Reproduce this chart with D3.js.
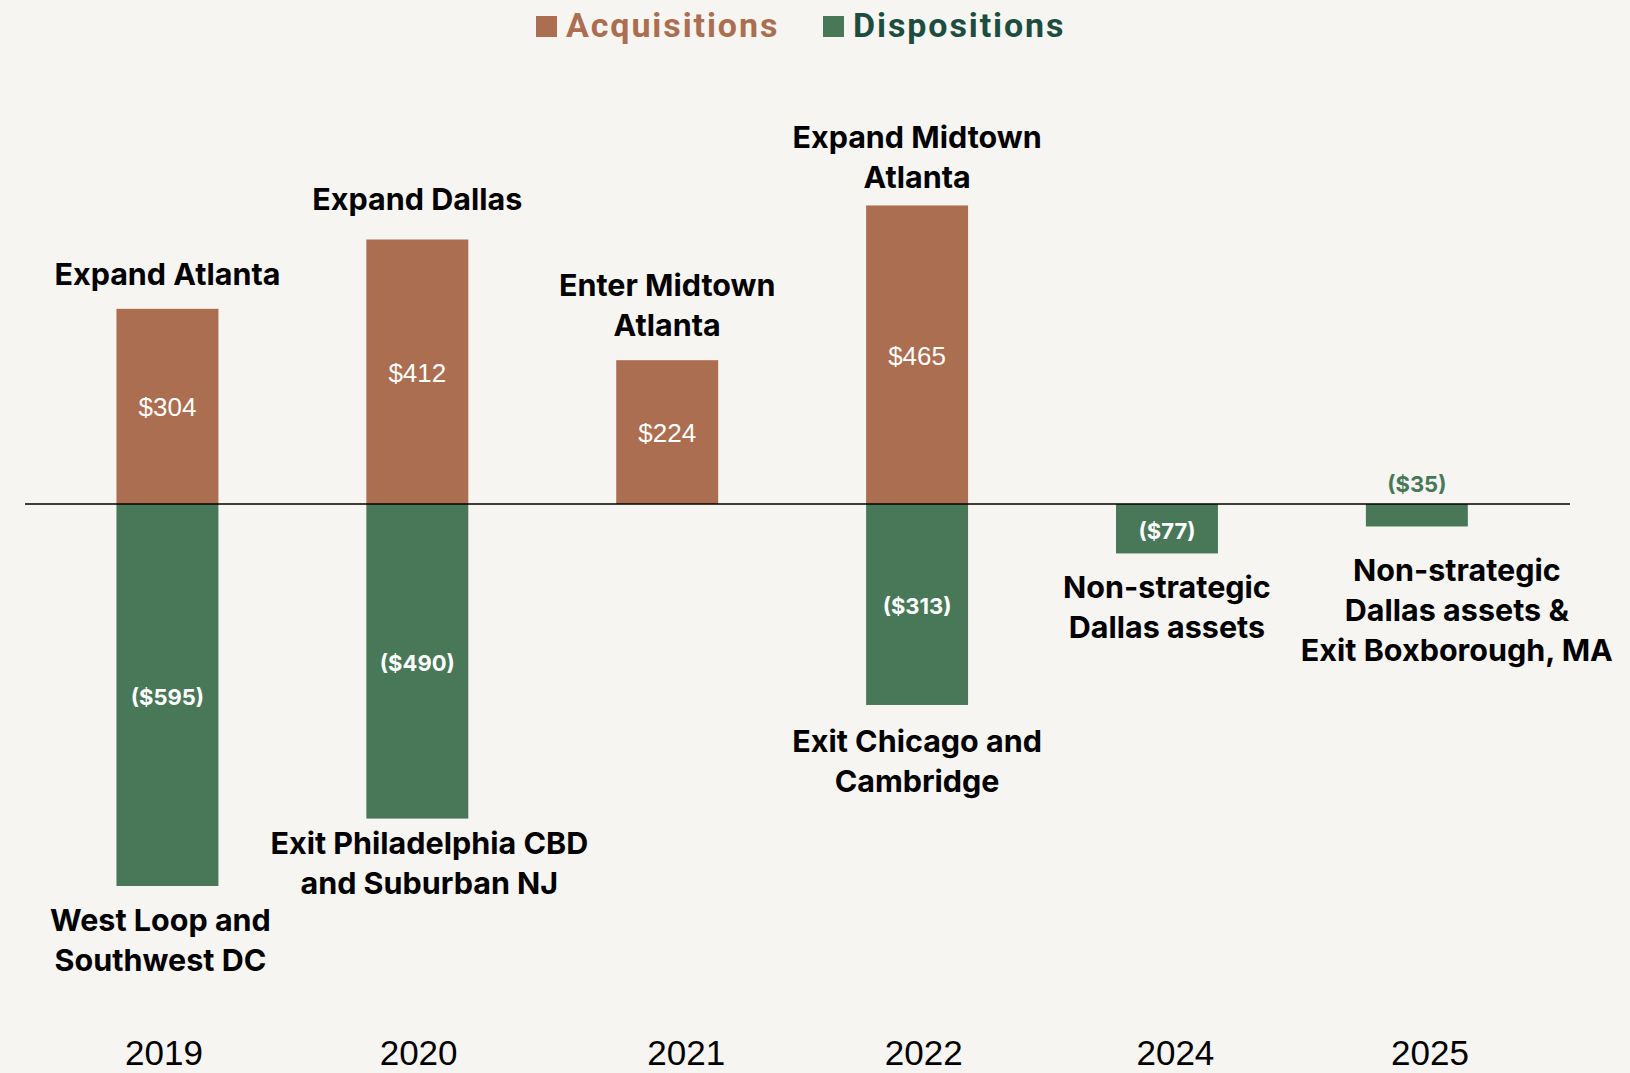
<!DOCTYPE html>
<html>
  <head>
    <meta charset="utf-8">
    <title>Acquisitions and dispositions</title>
    <script src="https://cdn.jsdelivr.net/npm/d3@7"></script>
    <style>
      body { margin: 0; background: #f6f5f1; }
      svg { display: block; }
      .note { font-family: Inter, "Noto Sans", sans-serif; font-weight: 700; font-size: 30.5px; fill: #000; }
      .year { font-family: "Liberation Sans", Arial, sans-serif; font-size: 35px; fill: #000; }
    </style>
  </head>
  <body>
    <div id="chart"></div>
    <script>
      // data
      const years = ["2019", "2020", "2021", "2022", "2024", "2025"];
      const acquisitions = [304, 412, 224, 465, null, null];
      const dispositions = [-595, -490, null, -313, -77, -35];
      const topNotes = [
        ["Expand Atlanta"],
        ["Expand Dallas"],
        ["Enter Midtown", "Atlanta"],
        ["Expand Midtown", "Atlanta"],
        [],
        []
      ];
      const bottomNotes = [
        ["West Loop and", "Southwest DC"],
        ["Exit Philadelphia CBD", "and Suburban NJ"],
        [],
        ["Exit Chicago and", "Cambridge"],
        ["Non-strategic", "Dallas assets"],
        ["Non-strategic", "Dallas assets &", "Exit Boxborough, MA"]
      ];

      // layout (label nudges, in px)
      const width = 1630, height = 1073;
      const acqColor = "#ab6e50", disColor = "#487858";
      const topShift = [[0, 0], [0, -5], [0, 0], [0, 7], [0, 0], [0, 0]];
      const bottomShift = [[-7, 2], [12, -8], [0, 0], [0, 4], [0, 2], [40, 12]];
      const yearShift = [-5, -3, 12, -3, -4, -2];
      const lineH = 40;

      const svg = d3.select("#chart").append("svg")
        .attr("width", width)
        .attr("height", height)
        .style("background", "#f6f5f1");

      const x = d3.scaleBand()
        .domain(years)
        .range([42.5, 1541.8])
        .paddingInner(0.592)
        .paddingOuter(0.296);
      const xLabel = d3.scalePoint()
        .domain(years)
        .range([169, 1432]);
      const y = d3.scaleLinear()
        .domain([-600, 500])
        .range([889.2, 183]);

      // bars
      const rows = years.map((yr, i) => ({ yr, i, acq: acquisitions[i], dis: dispositions[i] }));

      svg.selectAll(".acq")
        .data(rows.filter(d => d.acq != null))
        .enter().append("rect")
          .attr("x", d => x(d.yr))
          .attr("width", x.bandwidth())
          .attr("y", d => y(d.acq))
          .attr("height", d => y(0) - y(d.acq))
          .attr("fill", acqColor);

      svg.selectAll(".dis")
        .data(rows.filter(d => d.dis != null))
        .enter().append("rect")
          .attr("x", d => x(d.yr))
          .attr("width", x.bandwidth())
          .attr("y", y(0))
          .attr("height", d => y(d.dis) - y(0))
          .attr("fill", disColor);

      // zero line
      svg.append("line")
        .attr("x1", 25).attr("x2", 1570)
        .attr("y1", y(0)).attr("y2", y(0))
        .attr("stroke", "#000")
        .attr("stroke-width", 1.6);

      // value labels
      svg.selectAll(".acqVal")
        .data(rows.filter(d => d.acq != null))
        .enter().append("text")
          .attr("x", d => x(d.yr) + x.bandwidth() / 2)
          .attr("y", d => (y(d.acq) + y(0)) / 2)
          .attr("dy", "0.38em")
          .attr("text-anchor", "middle")
          .style("font-family", "'Liberation Sans', Arial, sans-serif")
          .style("font-size", "26px")
          .style("fill", "#fff")
          .text(d => "$" + d.acq);

      svg.selectAll(".disVal")
        .data(rows.filter(d => d.dis != null))
        .enter().append("text")
          .attr("x", d => x(d.yr) + x.bandwidth() / 2)
          .attr("y", d => d.dis > -50 ? y(0) - 22 : (y(d.dis) + y(0)) / 2)
          .attr("dy", "0.45em")
          .attr("text-anchor", "middle")
          .style("font-family", "Inter, 'Noto Sans', sans-serif")
          .style("font-weight", 700)
          .style("font-size", "22px")
          .style("fill", d => d.dis > -50 ? disColor : "#fff")
          .text(d => "($" + Math.abs(d.dis) + ")");

      // annotations above bars
      rows.forEach(d => {
        const lines = topNotes[d.i];
        if (!lines.length || d.acq == null) return;
        const cx = x(d.yr) + x.bandwidth() / 2 + topShift[d.i][0];
        const base = y(d.acq) - 24 - (lines.length - 1) * lineH + topShift[d.i][1];
        const t = svg.append("text")
          .attr("class", "note")
          .attr("text-anchor", "middle");
        lines.forEach((l, j) => {
          t.append("tspan").attr("x", cx).attr("y", base + j * lineH).text(l);
        });
      });

      // annotations below bars
      rows.forEach(d => {
        const lines = bottomNotes[d.i];
        if (!lines.length || d.dis == null) return;
        const cx = x(d.yr) + x.bandwidth() / 2 + bottomShift[d.i][0];
        const base = y(d.dis) + 43 + bottomShift[d.i][1];
        const t = svg.append("text")
          .attr("class", "note")
          .attr("text-anchor", "middle");
        lines.forEach((l, j) => {
          t.append("tspan").attr("x", cx).attr("y", base + j * lineH).text(l);
        });
      });

      // year axis
      const axis = svg.append("g")
        .attr("transform", "translate(0,1065)")
        .call(d3.axisBottom(xLabel).tickSize(0).tickPadding(0));
      axis.select(".domain").remove();
      axis.selectAll(".tick")
        .attr("transform", (d, i) => "translate(" + (xLabel(d) + yearShift[i]) + ",0)");
      axis.selectAll("text")
        .attr("class", "year")
        .attr("y", 0)
        .attr("dy", 0);
      axis.attr("font-family", null).attr("font-size", null);

      // legend
      const legend = [
        { name: "Acquisitions", box: acqColor, text: acqColor, x: 536 },
        { name: "Dispositions", box: disColor, text: "#1c4d40", x: 823 }
      ];
      const lg = svg.selectAll(".legend")
        .data(legend)
        .enter().append("g");
      lg.append("rect")
        .attr("x", d => d.x)
        .attr("y", 16)
        .attr("width", 21)
        .attr("height", 21)
        .attr("fill", d => d.box);
      lg.append("text")
        .attr("x", d => d.x + 30)
        .attr("y", 37)
        .style("font-family", "Roboto, sans-serif")
        .style("font-weight", 700)
        .style("font-size", "34px")
        .style("letter-spacing", "1.9px")
        .style("fill", d => d.text)
        .text(d => d.name);
    </script>
  </body>
</html>
